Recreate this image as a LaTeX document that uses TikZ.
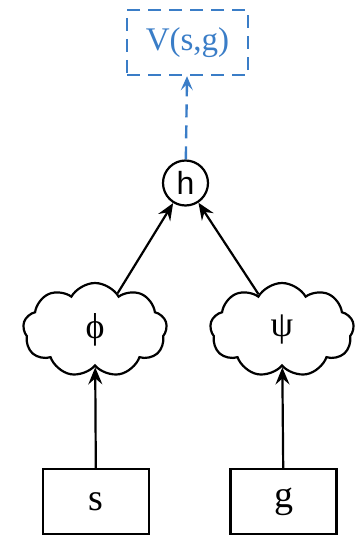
\documentclass[tikz,border=0pt]{standalone}
\usepackage{fontspec}
\setmainfont{Liberation Serif}
\newfontfamily\hfont{Liberation Sans}
\usetikzlibrary{arrows.meta, shapes.symbols}
\definecolor{valueblue}{RGB}{58,125,199}

\begin{document}
\begin{tikzpicture}[
    x=1pt, y=-1pt,
    > = {Stealth[length=17pt, width=14pt, inset=6pt]},
    line width=2.2pt,
    inputbox/.style={draw, minimum width=106pt, minimum height=65pt,
        font=\fontsize{38}{42}\selectfont},
    embed/.style={draw, cloud, cloud puffs=9, cloud puff arc=120,
        cloud ignores aspect, minimum width=144pt, minimum height=94pt,
        inner sep=0pt, font=\fontsize{36}{40}\selectfont},
    combine/.style={draw, circle, minimum size=45pt, inner sep=0pt,
        font=\hfont\fontsize{32}{36}\selectfont},
    valuebox/.style={draw=valueblue, text=valueblue, dash pattern=on 13pt off 8pt,
        line width=2.4pt, minimum width=121pt, minimum height=65pt,
        font=\fontsize{33}{38}\selectfont}
]
    % Fix the page size
    \useasboundingbox (0,0) rectangle (356,535);

    % Draw the inputs
    \node[inputbox] (s) at (96,501.5) {s};
    \node[inputbox] (g) at (283.5,501.5) {g};

    % Draw the two embeddings
    \node[embed] (phi) at (95,330) {ϕ};
    \node[embed] (psi) at (282,330) {ψ};

    % Draw the combining node and the value
    \node[combine] (h) at (185.5,183) {h};
    \node[valuebox] (V) at (187.5,42.5) {V(s,g)};

    % Connect everything
    \draw[->] (s) -- (phi);
    \draw[->] (g) -- (psi);
    \draw[->] (phi) -- (h);
    \draw[->] (psi) -- (h);
    \draw[-{Stealth[length=14pt, width=12pt, inset=6pt]}, valueblue, line width=2.4pt,
        dash pattern=on 13pt off 8pt] (h) -- (V);
\end{tikzpicture}
\end{document}
